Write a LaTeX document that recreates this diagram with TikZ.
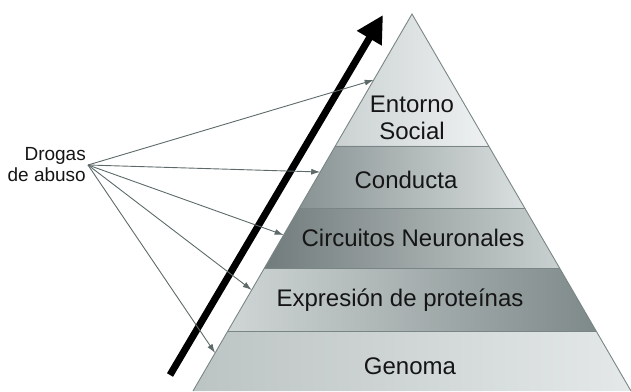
\documentclass[tikz,border=0pt]{standalone}
\usepackage{fontspec}
\setmainfont{Liberation Sans}
\usetikzlibrary{arrows.meta,calc}
\definecolor{gris}{HTML}{5E6A6A}
\definecolor{borde}{HTML}{7A8686}
\definecolor{claro}{HTML}{E4E8E8}
\definecolor{medio}{HTML}{C3CACA}
\definecolor{oscuro}{HTML}{7E8989}
\definecolor{texto}{HTML}{151515}
\tikzset{
	capa/.style={text=texto,align=center,font=\fontsize{24}{27}\selectfont},
	flecha/.style={draw=gris,line width=0.9pt,-{Latex[length=9pt,width=6pt]}}
}
\begin{document}
\begin{tikzpicture}[x=1pt,y=-1pt]
	\useasboundingbox (0,0) rectangle (631,391);
	\coordinate (A) at (412,14); % vertice
	\coordinate (L) at (193,391);
	\coordinate (R) at (631,391);
	\foreach \t [count=\i] in {0.350,0.515,0.676,0.843}{
		\coordinate (L\i) at ($(A)!\t!(L)$);
		\coordinate (R\i) at ($(A)!\t!(R)$);
	}
	\shade[left color=medio!75!claro,right color=claro!60!white] (A) -- (L1) -- (R1) -- cycle; % Entorno Social
	\shade[left color=oscuro!85!medio,right color=claro!70!medio] (L1) -- (L2) -- (R2) -- (R1) -- cycle; % Conducta
	\shade[left color=oscuro!90!black,right color=medio!80!claro] (L2) -- (L3) -- (R3) -- (R2) -- cycle; % Circuitos
	\shade[left color=medio!60!claro,middle color=white,right color=oscuro] (L3) -- (L4) -- (R4) -- (R3) -- cycle; % Expresion
	\shade[left color=medio!90!oscuro,middle color=claro,right color=claro] (L4) -- (L) -- (R) -- (R4) -- cycle; % Genoma
	\draw[borde,line width=0.8pt] (L1) -- (R1) (L2) -- (R2) (L3) -- (R3) (L4) -- (R4);
	\draw[borde,line width=0.9pt] (L) -- (A) -- (R);
	\node[capa] (entorno) at (412,118) {Entorno\\Social};
	\node[capa] (conducta) at (406,180) {Conducta};
	\node[capa] (circuitos) at (413,238) {Circuitos Neuronales};
	\node[capa] (expresion) at (400,300) {Expresión de proteínas};
	\node[capa] (genoma) at (410,366) {Genoma};
	% flecha negra
	\coordinate (cola) at (170,375);
	\coordinate (punta) at (383,15);
	\draw[line width=7pt,-{Triangle[length=27pt,width=27pt]}] (cola) -- (punta);
	% drogas de abuso
	\node[anchor=east,align=right,inner sep=2pt,text=texto,font=\fontsize{19}{21}\selectfont] (drogas) at (88,165) {Drogas\\de abuso};
	\foreach \y in {80,172,235,290,353}{
		\coordinate (e) at ($(A)!{(\y-14)/377}!(L)$);
		\draw[flecha] (drogas.east) -- (e);
	}
\end{tikzpicture}
\end{document}
